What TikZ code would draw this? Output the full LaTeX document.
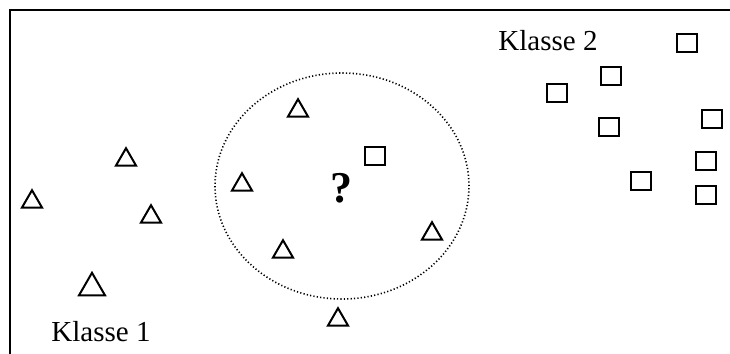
\documentclass[tikz,border=0pt]{standalone}
\usepackage{fontspec}
\setmainfont{Liberation Serif}
\usetikzlibrary{shapes.geometric, positioning}

\begin{document}
\begin{tikzpicture}[
    x=0.5pt, y=-0.5pt,
    tri/.style={regular polygon, regular polygon sides=3, minimum size=11.6pt, inner sep=0pt, draw=black, line width=1pt, yshift=-1.4pt},
    bigtri/.style={tri, minimum size=15pt, yshift=-0.5pt},
    sq/.style={rectangle, minimum width=10.2pt, minimum height=8.6pt, inner sep=0pt, draw=black, line width=1pt},
    label/.style={font=\fontsize{14.5pt}{17pt}\selectfont, inner sep=0pt},
    query/.style={font=\fontsize{22pt}{26pt}\selectfont\bfseries, inner sep=0pt}
]

    \clip (0,0) rectangle (730,354);

    % Frame
    \draw[line width=1pt] (10,364) -- (10,10) -- (740,10);

    % Neighbourhood
    \node[ellipse, draw=black, line width=0.8pt, dash pattern=on 0.6pt off 1.1pt, minimum width=127pt, minimum height=113pt, inner sep=0pt] (hood) at (342,186) {};
    \node[query] (q) at (341,188) {?};

    % Klasse 1
    \node[tri] (t1) at (32,199) {};
    \node[tri] (t2) at (126,157) {};
    \node[tri] (t3) at (151,214) {};
    \node[bigtri] (t4) at (92,284) {};
    \node[tri] (t5) at (298,108) {};
    \node[tri] (t6) at (242,182) {};
    \node[tri] (t7) at (283,249) {};
    \node[tri] (t8) at (432,231) {};
    \node[tri] (t9) at (338,317) {};
    \node[label] (k1) at (101,332) {Klasse 1};

    % Klasse 2
    \node[sq] (s1) at (375,156) {};
    \node[sq] (s2) at (687,43) {};
    \node[sq] (s3) at (611,76) {};
    \node[sq] (s4) at (557,93) {};
    \node[sq] (s5) at (712,119) {};
    \node[sq] (s6) at (609,127) {};
    \node[sq] (s7) at (706,161) {};
    \node[sq] (s8) at (641,181) {};
    \node[sq] (s9) at (706,195) {};
    \node[label] (k2) at (548,41) {Klasse 2};

\end{tikzpicture}
\end{document}
